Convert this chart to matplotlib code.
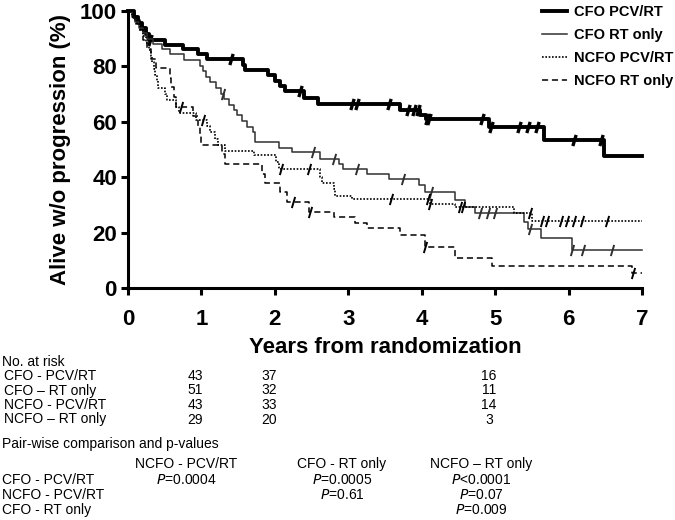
import numpy as np
import matplotlib.pyplot as plt
from matplotlib.path import Path

# step curves: time (years) at which survival drops, survival (%) after the drop
cfo_pcv_t = [0, 0.08, 0.14, 0.19, 0.24, 0.28, 0.50, 0.75, 0.95, 1.08, 1.57, 1.60, 1.91, 2.00, 2.07,
             2.14, 2.40, 2.59, 3.71, 3.98, 4.06, 4.92, 5.67, 6.48]
cfo_pcv_s = [100, 97.9, 95.8, 93.8, 91.7, 89.6, 87.9, 86.2, 84.4, 82.6, 80.6, 78.7, 76.8, 74.9, 73.0,
             71.1, 68.6, 66.4, 64.3, 62.6, 61.0, 58.0, 53.3, 47.6]
cfo_pcv_cens = [0.30, 1.40, 2.34, 3.05, 3.12, 3.55, 3.82, 3.89, 3.95, 4.07, 4.10, 4.82, 4.94,
                5.33, 5.45, 5.57, 6.08, 6.44]

cfo_rt_t = [0, 0.05, 0.10, 0.15, 0.20, 0.26, 0.34, 0.46, 0.57, 0.76, 0.98, 1.02, 1.06, 1.12, 1.20,
            1.27, 1.31, 1.38, 1.45, 1.48, 1.55, 1.62, 1.70, 1.73, 2.05, 2.24, 2.62, 2.87, 2.93,
            3.25, 3.55, 3.96, 4.05, 4.45, 4.59, 4.72, 5.39, 5.45, 5.63, 6.04]
cfo_rt_s = [100, 98, 96, 94, 92, 90, 88.2, 86.3, 84.3, 82.2, 80.2, 78.2, 76.2, 74.2, 72.2,
            70.2, 68.2, 66.2, 64.2, 62.3, 60.3, 58.3, 56.3, 52.6, 50.6, 49.2, 46.6, 44.6, 42.8,
            41.2, 39.3, 37.2, 34.8, 31.8, 29.4, 27.0, 24.0, 21.2, 17.9, 13.6]
cfo_rt_cens = [1.30, 2.52, 2.80, 3.12, 3.74, 4.13, 4.80, 4.90, 5.00, 5.47, 6.05, 6.20, 6.59]

ncfo_pcv_t = [0, 0.05, 0.11, 0.16, 0.20, 0.24, 0.28, 0.31, 0.33, 0.35, 0.37, 0.39, 0.41, 0.50,
              0.53, 0.66, 0.70, 0.93, 1.07, 1.12, 1.18, 1.22, 1.32, 1.71, 2.02, 2.05, 2.62, 2.64,
              2.80, 2.82, 3.05, 4.11, 4.45, 5.25, 5.50]
ncfo_pcv_s = [100, 97.7, 95.4, 93.1, 90.8, 88.4, 86.1, 83.8, 81.5, 79.2, 76.9, 74.6, 72.3, 70.0,
              67.7, 65.4, 63.1, 60.8, 58.5, 56.2, 53.9, 51.6, 49.3, 48.0, 45.4, 42.8, 40.2, 37.9,
              35.6, 33.3, 32.0, 30.4, 29.4, 27.0, 24.3]
ncfo_pcv_cens = [1.02, 2.09, 2.46, 3.58, 4.08, 4.11, 4.52, 4.56, 5.48, 5.64, 5.70, 5.90, 5.98,
                 6.07, 6.18, 6.52]

ncfo_rt_t = [0, 0.10, 0.16, 0.21, 0.26, 0.31, 0.38, 0.57, 0.59, 0.62, 0.66, 0.88, 0.96, 0.98,
             0.99, 1.28, 1.32, 1.82, 1.87, 2.07, 2.16, 2.47, 2.80, 3.09, 3.25, 3.71, 4.05, 4.45,
             4.96, 6.86]
ncfo_rt_s = [100, 96.6, 93.1, 89.7, 86.2, 82.8, 79.3, 75.9, 72.4, 69.0, 65.5, 62.1, 58.6, 55.2,
             51.7, 48.3, 44.8, 41.0, 37.9, 34.5, 31.0, 27.6, 25.5, 23.4, 21.5, 19.0, 14.9, 10.7,
             7.9, 5.5]
ncfo_rt_cens = [0.72, 2.25, 2.48, 4.05, 6.88]

labels = ['CFO PCV/RT', 'CFO RT only', 'NCFO PCV/RT', 'NCFO RT only']
years = [0, 1, 2, 3, 4, 5, 6, 7]

risk_groups = ['CFO - PCV/RT', 'CFO \u2013 RT only', 'NCFO - PCV/RT', 'NCFO \u2013 RT only']
risk_years = [1, 2, 5]
risk_counts = [[43, 37, 16], [51, 32, 11], [43, 33, 14], [29, 20, 3]]

pw_cols = ['NCFO - PCV/RT', 'CFO - RT only', 'NCFO \u2013 RT only']
pw_rows = ['CFO - PCV/RT', 'NCFO - PCV/RT', 'CFO - RT only']
pw_vals = [['=0.0004', '=0.0005', '<0.0001'],
           ['', '=0.61', '=0.07'],
           ['', '', '=0.009']]

W, H = 675, 520
fig = plt.figure(figsize=(W / 100, H / 100), dpi=100)
ax = fig.add_axes([128 / W, 1 - 288 / H, (642 - 128) / W, (288 - 11) / H])

slash = Path([(-0.3, -1), (0.3, 1)], [Path.MOVETO, Path.LINETO])

curves = [
    (cfo_pcv_t, cfo_pcv_s, cfo_pcv_cens, dict(color='black', lw=2.8, ls='-'), 2.4),
    (cfo_rt_t, cfo_rt_s, cfo_rt_cens, dict(color='#303030', lw=1.1, ls='-'), 1.4),
    (ncfo_pcv_t, ncfo_pcv_s, ncfo_pcv_cens, dict(color='black', lw=1.2, ls=(0, (1, 1))), 1.4),
    (ncfo_rt_t, ncfo_rt_s, ncfo_rt_cens, dict(color='black', lw=1.1, ls=(0, (4, 2.5))), 1.4),
]

for (t, s, cens, style, mew), lab in zip(curves, labels):
    tt = np.append(t, 7.0)
    ss = np.append(s, s[-1])
    ax.step(tt, ss, where='post', label=lab, clip_on=False, **style)
    idx = np.searchsorted(t, cens, side='right') - 1
    ax.plot(cens, np.array(s)[idx], ls='none', marker=slash, ms=8,
            mec=style['color'], mew=mew, clip_on=False)

ax.set_xlim(0, 7)
ax.set_ylim(0, 100)
ax.set_xticks(years)
ax.set_yticks([0, 20, 40, 60, 80, 100])
for side in ['top', 'right']:
    ax.spines[side].set_visible(False)
for side in ['left', 'bottom']:
    ax.spines[side].set_linewidth(2.2)
ax.tick_params(width=2.2, length=5, labelsize=16, pad=3)
for lbl in ax.get_xticklabels() + ax.get_yticklabels():
    lbl.set_fontweight('bold')
    lbl.set_family('Liberation Sans')
ax.tick_params(axis='x', pad=10)
ax.set_xlabel('Years from randomization', fontsize=16, fontweight='bold',
              family='Liberation Sans', labelpad=5)
ax.set_ylabel('Alive w/o progression (%)', fontsize=16, fontweight='bold',
              family='Liberation Sans', labelpad=6)

fig.legend(loc='upper left', bbox_to_anchor=(536 / W, 1 + 1 / H), frameon=False,
           prop=dict(family='Liberation Sans', weight='bold', size=10.5),
           handlelength=1.75, handletextpad=0.45, labelspacing=0.62, borderaxespad=0)

narrow = ['Liberation Sans Narrow', 'Liberation Sans']
fs = 10


def px(x, y):
    return x / W, 1 - y / H


def tx(x, y, s, ha='left', **kw):
    fig.text(*px(x, y), s, ha=ha, va='center', fontsize=fs, family=narrow, **kw)


def t2x(yr):
    return 128 + (642 - 128) * yr / 7


tx(2, 362, 'No. at risk')
for i, (g, row) in enumerate(zip(risk_groups, risk_counts)):
    y = 376 + i * 14.5
    tx(4, y, g)
    for yr, n in zip(risk_years, row):
        tx(t2x(yr) - 6, y, str(n), ha='center')

tx(2, 444, 'Pair-wise comparison and p-values')
col_x = [186, 342, 481]
for cx, c in zip(col_x, pw_cols):
    tx(cx, 464, c, ha='center')
for i, (r, vals) in enumerate(zip(pw_rows, pw_vals)):
    y = 480 + i * 15
    tx(2, y, r)
    for cx, v in zip(col_x, vals):
        if v:
            tx(cx, y, r'$\mathit{P}$' + v, ha='center')

fig.savefig('out.png', dpi=100)
